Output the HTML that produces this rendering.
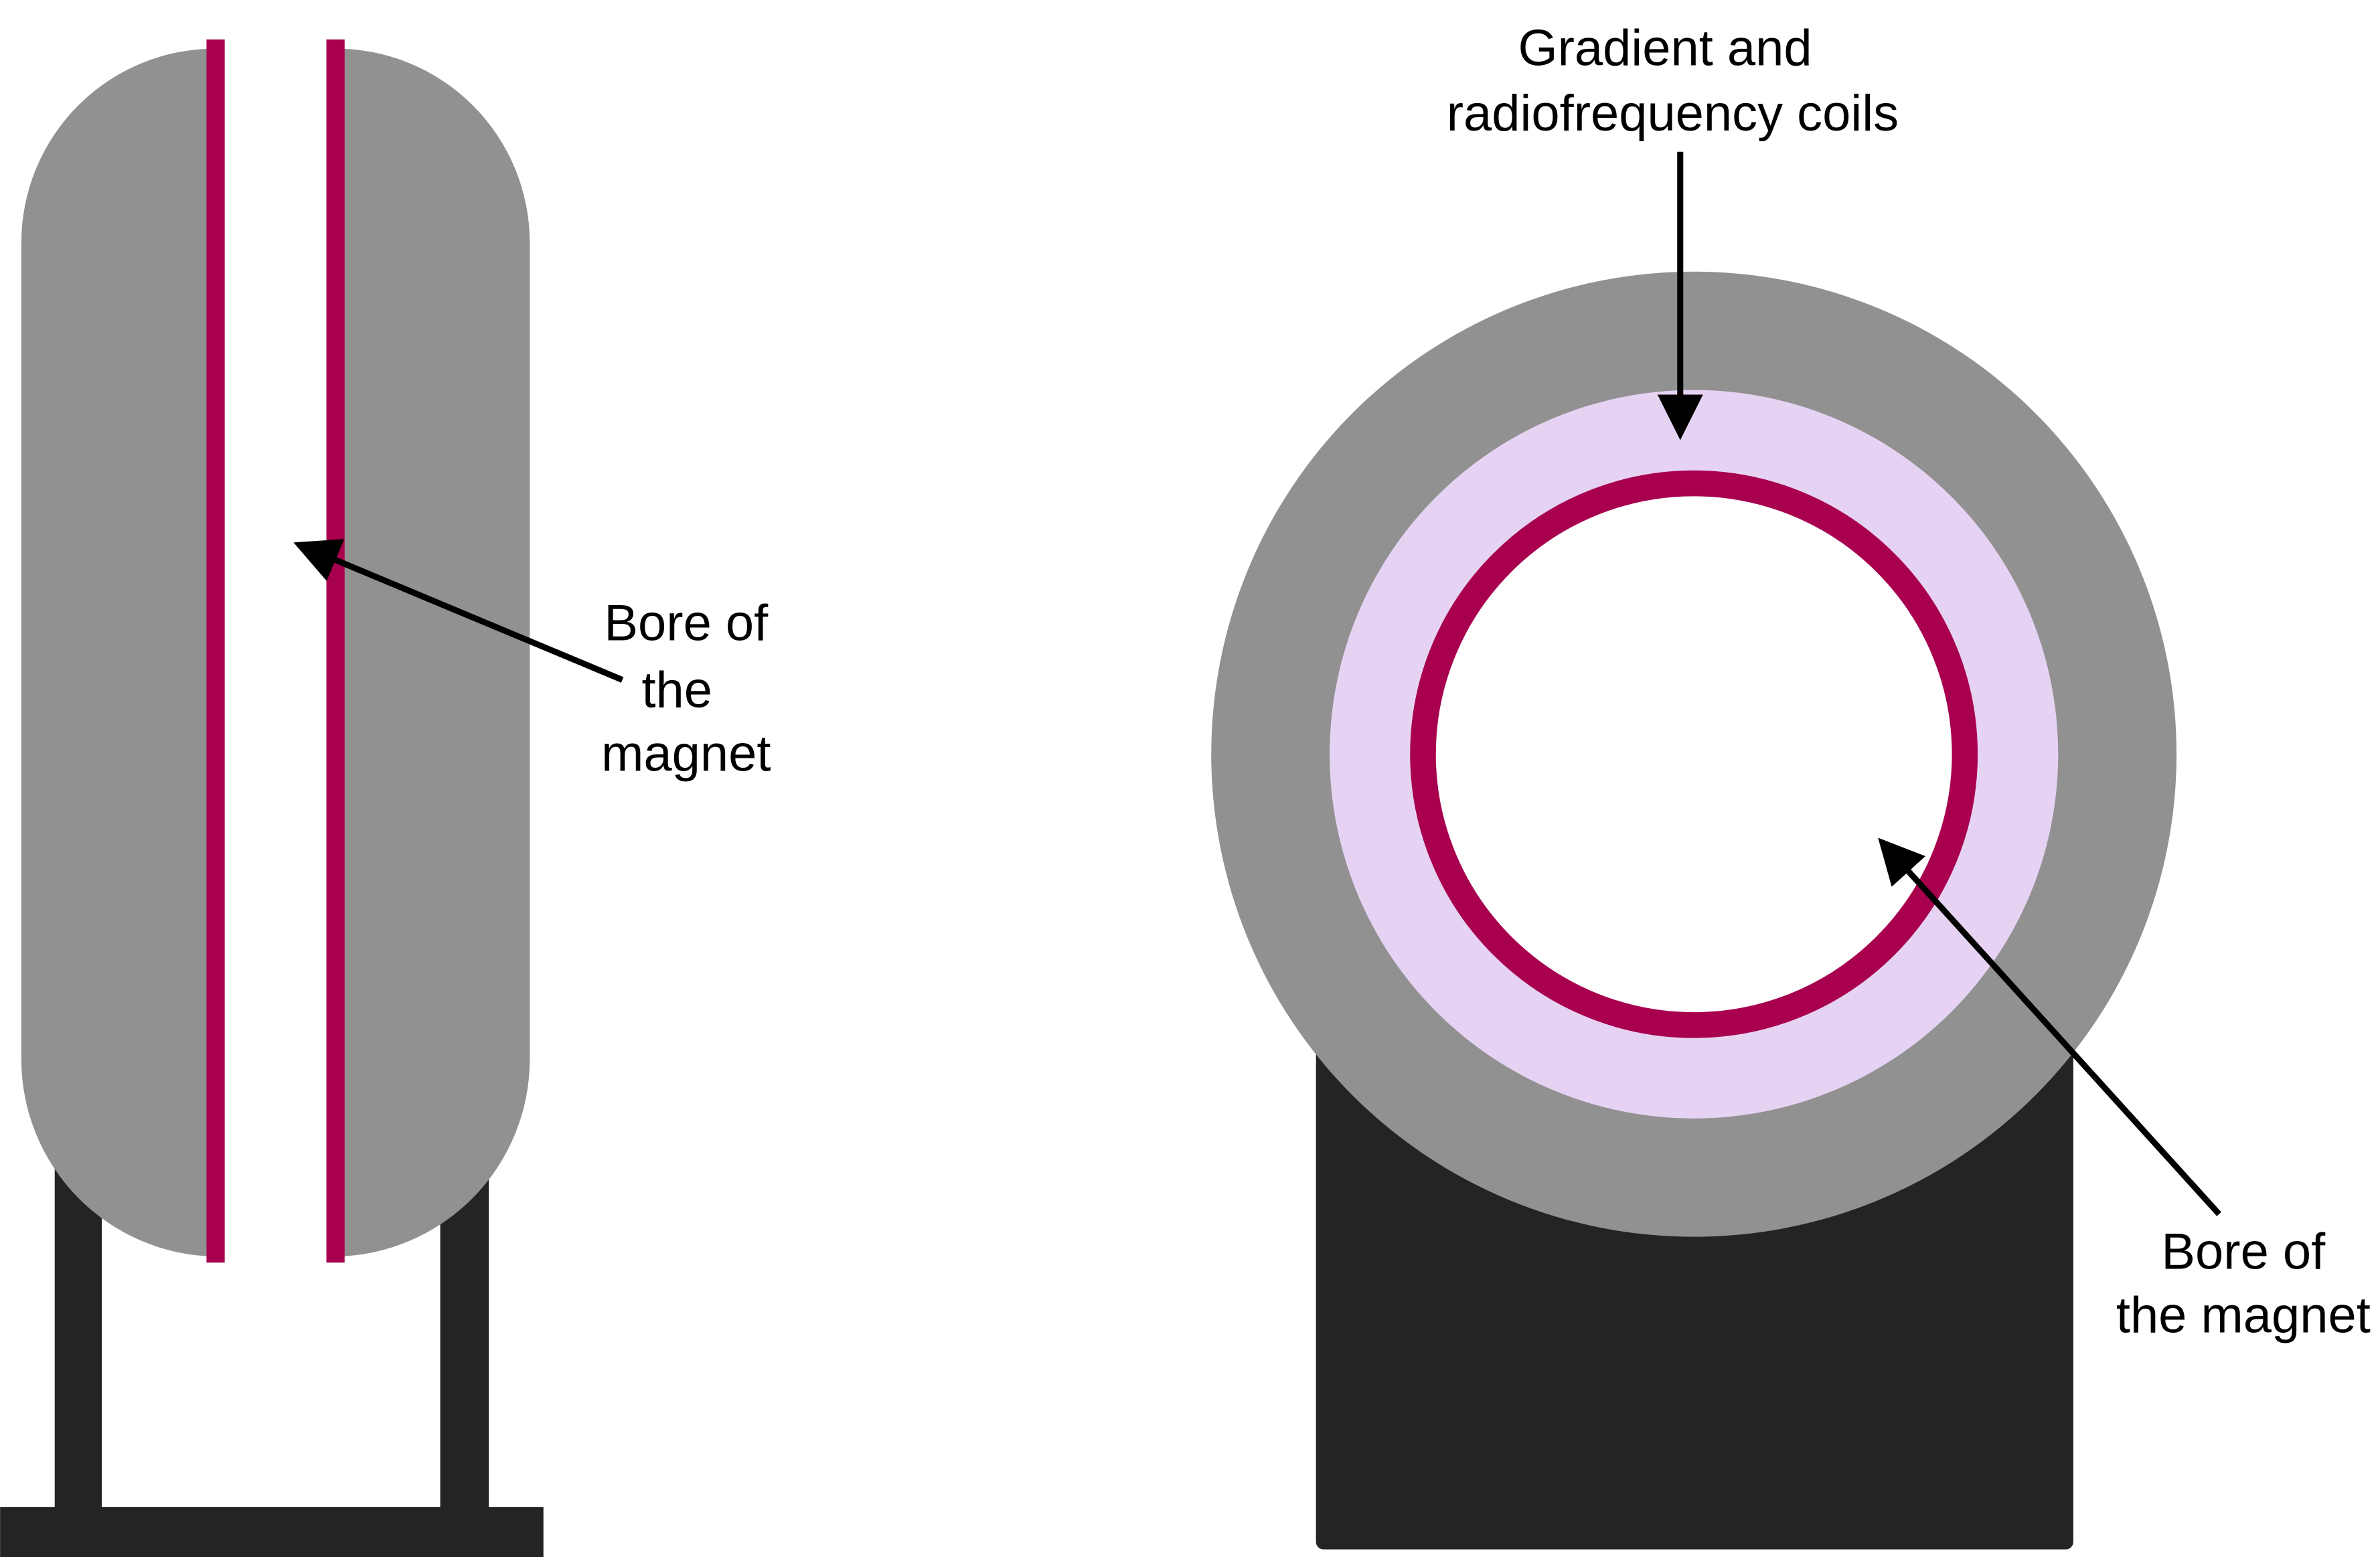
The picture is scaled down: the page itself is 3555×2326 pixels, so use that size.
<!DOCTYPE html>
<html><head><meta charset="utf-8"><style>
html,body{margin:0;padding:0;background:#fff;}
svg{display:block;}
text{font-family:"Liberation Sans",sans-serif;font-size:33.5px;fill:#000;text-anchor:middle;}
</style></head><body>
<svg width="3555" height="2326" viewBox="0 0 1568 1026" xmlns="http://www.w3.org/2000/svg">
<defs>
<marker id="ah" markerWidth="7.5" markerHeight="7.5" refX="6.5" refY="3.75" orient="auto" markerUnits="strokeWidth">
<path d="M0,0 L7.5,3.75 L0,7.5 z" fill="#000"/>
</marker>
</defs>
<rect x="36" y="760" width="31" height="240" fill="#242424"/>
<rect x="290" y="760" width="32" height="240" fill="#242424"/>
<rect x="0" y="993" width="358" height="33" fill="#242424"/>
<path d="M142,32 A128,128 0 0 0 14,160 L14,698 A130,130 0 0 0 142,828 Z" fill="#919191"/>
<path d="M221,32 A128,128 0 0 1 349,160 L349,698 A130,130 0 0 1 221,828 Z" fill="#919191"/>
<rect x="136" y="26" width="12" height="806" fill="#a8004f"/>
<rect x="215" y="26" width="12" height="806" fill="#a8004f"/>
<line x1="410" y1="448" x2="197" y2="359" stroke="#000" stroke-width="4" marker-end="url(#ah)"/>
<text x="452" y="422">Bore of</text>
<text x="446" y="466">the</text>
<text x="452" y="508">magnet</text>
<rect x="867" y="680" width="499" height="341" rx="5" fill="#242424"/>
<circle cx="1116" cy="497" r="318" fill="#919191"/>
<circle cx="1116" cy="497" r="240" fill="#e6d3f3"/>
<circle cx="1116" cy="497" r="178.5" fill="#fff" stroke="#a8004f" stroke-width="17"/>
<line x1="1107" y1="100" x2="1107" y2="286" stroke="#000" stroke-width="4" marker-end="url(#ah)"/>
<line x1="1462" y1="800" x2="1240" y2="555" stroke="#000" stroke-width="4" marker-end="url(#ah)"/>
<text x="1097" y="43">Gradient and</text>
<text x="1102" y="86">radiofrequency coils</text>
<text x="1478" y="836">Bore of</text>
<text x="1478" y="878">the magnet</text>
</svg>
</body></html>
